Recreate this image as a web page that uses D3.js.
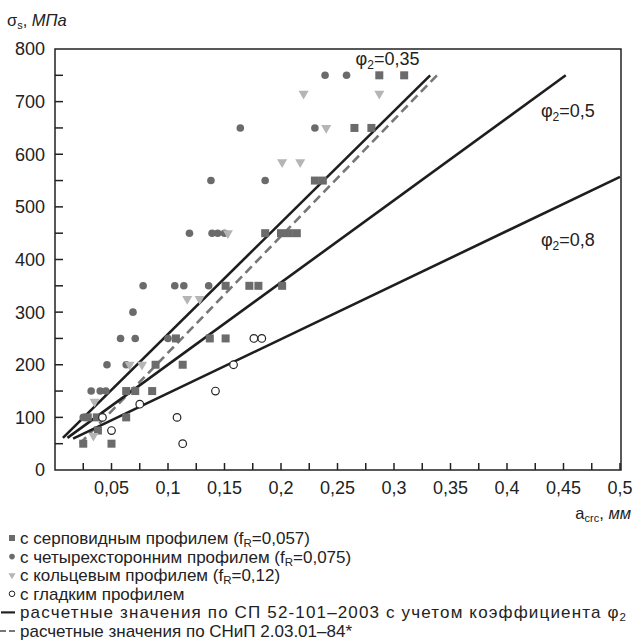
<!DOCTYPE html>
<html>
<head>
<meta charset="utf-8">
<script src="https://cdn.jsdelivr.net/npm/d3@7"></script>
<style>
  body { margin: 0; background: #fff; }
  svg text { font-family: "Liberation Sans", Arial, Helvetica, sans-serif; fill: #222; }
</style>
</head>
<body>
<svg id="chart" width="643" height="641"></svg>
<script>
// experimental points: [a_crc (mm), sigma_s (MPa)]
var sickleProfile = [[0.025,50],[0.050,50],[0.038,75],[0.029,100],[0.037,100],[0.063,100],
	[0.063,150],[0.071,150],[0.086,150],[0.089,200],[0.113,200],[0.107,250],[0.137,250],[0.151,250],
	[0.151,350],[0.172,350],[0.180,350],[0.201,350],[0.186,450],[0.200,450],[0.207,450],[0.214,450],
	[0.230,550],[0.237,550],[0.265,650],[0.280,650],[0.287,750],[0.309,750]];
var fourSideProfile = [[0.025,100],[0.032,150],[0.040,150],[0.045,150],[0.046,200],[0.063,200],
	[0.058,250],[0.071,250],[0.069,300],[0.078,350],[0.100,250],[0.106,350],[0.114,350],[0.136,350],
	[0.119,450],[0.139,450],[0.144,450],[0.150,450],[0.138,550],[0.186,550],[0.164,650],[0.230,650],
	[0.239,750],[0.258,750]];
var ringProfile = [[0.034,65],[0.035,130],[0.066,200],[0.077,200],[0.117,325],[0.128,325],
	[0.153,450],[0.201,585],[0.217,585],[0.240,650],[0.220,715],[0.287,715]];
var smoothProfile = [[0.042,100],[0.050,75],[0.075,125],[0.108,100],[0.113,50],[0.142,150],
	[0.158,200],[0.176,250],[0.183,250]];

// calculated lines
var phiLines = [
	{label:"0,35", pts:[[0.007,61],[0.332,750]], at:[0.266,770]},
	{label:"0,5",  pts:[[0.011,61],[0.452,750]], at:[0.430,670]},
	{label:"0,8",  pts:[[0.016,59.5],[0.5,557]], at:[0.430,425]}
];
var snipLine = [[0.022,50],[0.338,750]];

var xTickLabels = [0.05,0.1,0.15,0.2,0.25,0.3,0.35,0.4,0.45,0.5];
var yTickLabels = [0,100,200,300,400,500,600,700,800];

var legendItems = [
	{kind:"square", text:"с серповидным профилем (f", sub:"R", tail:"=0,057)"},
	{kind:"dot", text:"с четырехсторонним профилем (f", sub:"R", tail:"=0,075)"},
	{kind:"tri", text:"с кольцевым профилем (f", sub:"R", tail:"=0,12)"},
	{kind:"ring", text:"с гладким профилем", sub:"", tail:""},
	{kind:"line", text:"расчетные значения по СП 52-101–2003 с учетом коэффициента φ", sub:"2", tail:""},
	{kind:"dash", text:"расчетные значения по СНиП 2.03.01–84*", sub:"", tail:""}
];

var svg = d3.select("#chart");
var x = d3.scaleLinear().domain([0,0.5]).range([55,620]);
var y = d3.scaleLinear().domain([0,800]).range([470,49]);
var markGray = "#6b6b6b", triGray = "#b5b5b5";

// frame
svg.append("rect").attr("x",55).attr("y",49).attr("width",566).attr("height",421)
	.attr("fill","none").attr("stroke","#222").attr("stroke-width",1.5);

// y ticks (inward)
svg.append("g").selectAll("line").data(d3.range(50,800,50)).enter().append("line")
	.attr("x1",55).attr("x2",63).attr("y1",function(d){return y(d);}).attr("y2",function(d){return y(d);})
	.attr("stroke","#222").attr("stroke-width",1.5);
svg.append("g").selectAll("text").data(yTickLabels).enter().append("text")
	.attr("x",45).attr("y",function(d){return y(d);}).attr("dy","0.36em")
	.attr("text-anchor","end").attr("font-size",18).text(function(d){return d;});

// x ticks (inward)
svg.append("g").selectAll("line").data(d3.range(1,21).map(function(i){return i*0.025;})).enter().append("line")
	.attr("x1",function(d){return x(d);}).attr("x2",function(d){return x(d);})
	.attr("y1",470).attr("y2",463).attr("stroke","#222").attr("stroke-width",1.5);
svg.append("g").selectAll("text").data(xTickLabels).enter().append("text")
	.attr("x",function(d){return x(d);}).attr("y",494)
	.attr("text-anchor","middle").attr("font-size",18)
	.text(function(d){return String(d).replace(".",",");});

// axis titles
var yt = svg.append("text").attr("x",7).attr("y",26).attr("font-size",16.5);
yt.append("tspan").text("σ");
yt.append("tspan").attr("font-size",11).attr("dy",3).text("s");
yt.append("tspan").attr("dy",-3).text(", ");
yt.append("tspan").attr("font-style","italic").text("МПа");

var xt = svg.append("text").attr("x",631).attr("y",519).attr("text-anchor","end").attr("font-size",16.5);
xt.append("tspan").text("a");
xt.append("tspan").attr("font-size",11).attr("dy",3).text("crc");
xt.append("tspan").attr("dy",-3).text(", ");
xt.append("tspan").attr("font-style","italic").text("мм");

// lines
var line = d3.line().x(function(d){return x(d[0]);}).y(function(d){return y(d[1]);});
svg.append("path").datum(snipLine).attr("d",line).attr("fill","none")
	.attr("stroke","#777").attr("stroke-width",2.6).attr("stroke-dasharray","9,5");
svg.selectAll(".phi").data(phiLines).enter().append("path").attr("class","phi")
	.attr("d",function(d){return line(d.pts);}).attr("fill","none")
	.attr("stroke","#1e1e1e").attr("stroke-width",2.6);

// points
svg.append("g").selectAll("rect").data(sickleProfile).enter().append("rect")
	.attr("x",function(d){return x(d[0])-4;}).attr("y",function(d){return y(d[1])-4;})
	.attr("width",8).attr("height",8).attr("fill",markGray);
svg.append("g").selectAll("circle").data(fourSideProfile).enter().append("circle")
	.attr("cx",function(d){return x(d[0]);}).attr("cy",function(d){return y(d[1]);})
	.attr("r",3.8).attr("fill",markGray);
var tri = d3.symbol().type(d3.symbolTriangle).size(44);
svg.append("g").selectAll("path").data(ringProfile).enter().append("path")
	.attr("d",tri).attr("fill",triGray)
	.attr("transform",function(d){return "translate("+x(d[0])+","+y(d[1])+") rotate(180)";});
svg.append("g").selectAll("circle").data(smoothProfile).enter().append("circle")
	.attr("cx",function(d){return x(d[0]);}).attr("cy",function(d){return y(d[1]);})
	.attr("r",3.8).attr("fill","#fff").attr("stroke","#222").attr("stroke-width",1.2);

// phi labels
phiLines.forEach(function(p){
	var t = svg.append("text").attr("x",x(p.at[0])).attr("y",y(p.at[1])).attr("font-size",18);
	t.append("tspan").text("φ");
	t.append("tspan").attr("font-size",12).attr("dy",4).text("2");
	t.append("tspan").attr("dy",-4).text("="+p.label);
});

// legend
var lg = svg.append("g");
legendItems.forEach(function(d,i){
	var cy = 538 + i*18.6;
	if(d.kind=="square") lg.append("rect").attr("x",9).attr("y",cy-3).attr("width",6).attr("height",6).attr("fill",markGray);
	if(d.kind=="dot") lg.append("circle").attr("cx",12).attr("cy",cy).attr("r",2.8).attr("fill",markGray);
	if(d.kind=="tri") lg.append("path").attr("d",d3.symbol().type(d3.symbolTriangle).size(22))
		.attr("fill",triGray).attr("transform","translate(12,"+cy+") rotate(180)");
	if(d.kind=="ring") lg.append("circle").attr("cx",12).attr("cy",cy).attr("r",2.8).attr("fill","#fff").attr("stroke","#222");
	if(d.kind=="line") lg.append("line").attr("x1",1).attr("x2",15).attr("y1",cy).attr("y2",cy).attr("stroke","#222").attr("stroke-width",2.2);
	if(d.kind=="dash") lg.append("line").attr("x1",0).attr("x2",15).attr("y1",cy).attr("y2",cy).attr("stroke","#777").attr("stroke-width",2.2).attr("stroke-dasharray","6,3");
	var t = lg.append("text").attr("x",20).attr("y",cy).attr("dy","0.35em").attr("font-size",17)
		.attr("textLength", d.kind=="line" ? 606 : null);
	t.append("tspan").text(d.text);
	if(d.sub) t.append("tspan").attr("font-size",11.5).attr("dy",3).text(d.sub);
	if(d.tail) t.append("tspan").attr("dy",-3).text(d.tail);
});
</script>
</body>
</html>
